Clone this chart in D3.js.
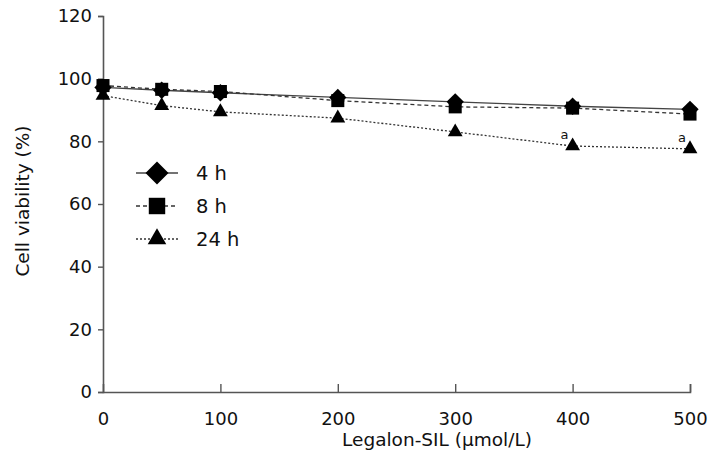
<!DOCTYPE html>
<html>
<head>
<meta charset="utf-8">
<script src="https://cdn.jsdelivr.net/npm/d3@7"></script>
<style>
  html, body { margin: 0; padding: 0; background: #fff; }
  svg { display: block; }
  text { font-family: "DejaVu Sans", Verdana, sans-serif; fill: #111; }
</style>
</head>
<body>
<svg id="chart" width="709" height="475"></svg>
<script>
// ---- data ----
const doses = [0, 50, 100, 200, 300, 400, 500];
const xTicks = [0, 100, 200, 300, 400, 500];
const yTicks = [0, 20, 40, 60, 80, 100, 120];
const seriesNames = ["4 h", "8 h", "24 h"];
const values4h  = [97.2, 96.3, 95.5, 94.0, 92.6, 91.2, 90.2];
const values8h  = [97.8, 96.6, 95.9, 93.0, 91.0, 90.6, 88.7];
const values24h = [94.6, 91.4, 89.4, 87.4, 83.0, 78.5, 77.6];
const sigLabels = [null, null, null, null, null, "a", "a"];

const series = [
  { name: seriesNames[0], values: values4h,  symbol: d3.symbolSquare, rotate: 45, dash: null,  stroke: "#444", size: 150, legendSize: 265 },
  { name: seriesNames[1], values: values8h,  symbol: d3.symbolSquare, rotate: 0, dash: "4,3", stroke: "#333", size: 170, legendSize: 270 },
  { name: seriesNames[2], values: values24h, symbol: d3.symbolTriangle, rotate: 0, dash: "2,2", stroke: "#333", size: 95, legendSize: 150 }
];

const svg = d3.select("#chart");
const margin = { left: 103, right: 19, top: 16, bottom: 83 };
const W = 709, H = 475;
const x = d3.scaleLinear().domain([0, 500]).range([margin.left, W - margin.right]);
const y = d3.scaleLinear().domain([0, 120]).range([H - margin.bottom, margin.top]);

// axes
const yAxis = d3.axisLeft(y).tickValues(yTicks).tickSize(5).tickPadding(6);
const gy = svg.append("g").attr("transform", `translate(${margin.left},0)`).call(yAxis);
gy.selectAll("text").style("font-size", "18px");

const xAxis = d3.axisBottom(x).tickValues(xTicks).tickSize(-8).tickPadding(20);
const gx = svg.append("g").attr("transform", `translate(0,${H - margin.bottom})`).call(xAxis);
gx.selectAll("text").style("font-size", "18px");
gx.selectAll(".tick").filter(d => d === 0).select("line").remove();

[gx, gy].forEach(g => {
  g.select(".domain").attr("stroke", "#555").attr("stroke-width", 1.6);
  g.selectAll(".tick line").attr("stroke", "#555").attr("stroke-width", 1.4);
});

// axis titles
svg.append("text")
  .attr("x", 437).attr("y", 446)
  .attr("text-anchor", "middle")
  .style("font-size", "18.5px")
  .text("Legalon-SIL (μmol/L)");
svg.append("text")
  .attr("transform", `translate(29,201) rotate(-90)`)
  .attr("text-anchor", "middle")
  .style("font-size", "18.5px")
  .text("Cell viability (%)");

// lines and markers
const line = d3.line().x((d, i) => x(doses[i])).y(d => y(d));
series.forEach(s => {
  svg.append("path")
    .datum(s.values)
    .attr("d", line)
    .attr("fill", "none")
    .attr("stroke", s.stroke)
    .attr("stroke-width", 1.3)
    .attr("stroke-dasharray", s.dash);
});
series.forEach(s => {
  svg.append("g").selectAll("path")
    .data(s.values)
    .join("path")
    .attr("transform", (d, i) => `translate(${x(doses[i])},${y(d)}) rotate(${s.rotate})`)
    .attr("d", d3.symbol().type(s.symbol).size(s.size))
    .attr("fill", "#000");
});

// significance labels
svg.append("g").selectAll("text")
  .data(values24h.map((v, i) => ({ v, i })).filter(d => sigLabels[d.i]))
  .join("text")
  .attr("x", d => x(doses[d.i]) - 8)
  .attr("y", d => y(d.v) - 7)
  .attr("text-anchor", "middle")
  .style("font-size", "13px")
  .text(d => sigLabels[d.i]);

// legend
const legend = svg.append("g");
const legendY = [173, 206, 239];
series.forEach((s, i) => {
  const g = legend.append("g").attr("transform", `translate(0,${legendY[i]})`);
  g.append("line").attr("x1", 136).attr("x2", 178).attr("y1", 0).attr("y2", 0)
    .attr("stroke", s.stroke).attr("stroke-width", 1.3).attr("stroke-dasharray", s.dash);
  g.append("path").attr("transform", `translate(157,0) rotate(${s.rotate})`)
    .attr("d", d3.symbol().type(s.symbol).size(s.legendSize)).attr("fill", "#000");
  g.append("text").attr("x", 196).attr("y", 0).attr("dy", "0.36em")
    .style("font-size", "19.5px").text(s.name);
});
</script>
</body>
</html>
